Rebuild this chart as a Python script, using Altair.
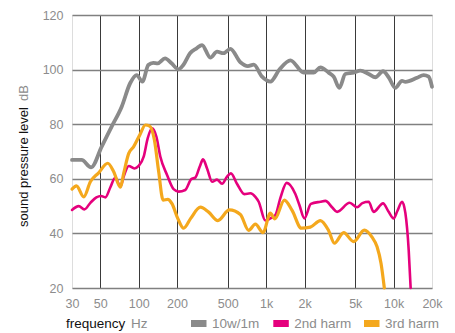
import altair as alt
import pandas as pd

series_names = ["10w/1m", "2nd harm", "3rd harm"]
series_colors = ["#8a8a8a", "#e5007d", "#f4a81d"]

grey_freq = [30, 35.7, 42.4, 51.3, 61.4, 73.6, 85.7, 96.5, 107, 119, 130, 141, 161, 181, 205,
             224, 253, 285, 314, 365, 412, 462, 524, 628, 719, 799, 929, 1079, 1271, 1549,
             1970, 2361, 2664, 3093, 3387, 3750, 4180, 4858, 5480, 6370, 7190, 8260, 9140,
             10310, 11640, 12360, 15270, 17190, 18830, 20000]
grey_db = [66.9, 66.9, 64.2, 71.8, 79.1, 86.4, 95.0, 98.0, 95.6, 101.7, 102.5, 102.3, 104.1, 102.3, 100.1,
           101.7, 106.0, 107.8, 109.0, 104.4, 106.6, 106.0, 107.6, 102.7, 101.3, 101.8, 97.4, 95.6, 100.0, 103.4,
           98.9, 98.9, 100.8, 98.9, 97.4, 93.3, 98.4, 98.9, 99.6, 98.4, 97.2, 99.4, 97.2,
           93.3, 95.9, 95.5, 97.0, 98.0, 97.4, 93.7]

pink_freq = [30, 33.9, 37.5, 41.8, 46.6, 50.7, 54.8, 60, 65.6, 71.9, 76.3, 83.6, 92.6, 100, 109.5,
             117.7, 127.4, 137.8, 148, 167, 188, 206, 232, 258, 279, 301, 320, 344, 377, 412,
             451, 494, 529, 592, 675, 752, 823, 874, 986, 1079, 1182, 1294, 1449, 1695, 1823,
             1995, 2244, 2664, 2916, 3289, 3600, 4520, 5166, 5690, 6370, 6972, 8262, 9141, 10000, 10700,
             11650, 12360, 13130, 13600]
pink_db = [48.6, 50.0, 48.8, 51.2, 53.2, 53.7, 53.2, 56.9, 60.5, 57.1, 60.8, 64.7, 63.8, 64.7, 68.1,
           74.8, 78.5, 75.4, 68.1, 61.4, 56.2, 55.3, 55.9, 59.8, 60.5, 64.4, 67.1, 63.8, 58.9, 59.7,
           58.2, 60.8, 62.0, 58.1, 54.4, 54.7, 53.4, 51.6, 44.7, 45.5, 46.7, 53.0, 58.5, 54.4, 50.4,
           45.5, 50.8, 51.6, 51.9, 49.6, 47.9, 51.2, 49.6, 51.1, 51.6, 47.9, 51.0, 47.9, 45.5, 48.2,
           51.6, 47.5, 33.9, 20]

orange_freq = [30, 32.5, 37.1, 41.8, 48.6, 57.2, 63.7, 71.9, 76.3, 83.6, 91.4, 101.9, 113, 122, 132.9,
               143.6, 155.5, 169, 183, 202.5, 225.5, 256, 305, 354, 418, 515, 628, 729, 823, 946,
               1079, 1170, 1390, 1598, 1890, 2223, 2664, 3093, 3430, 4056, 4858, 5890, 6770, 7416, 7968,
               8455]
orange_db = [56.2, 57.4, 53.4, 58.9, 62.2, 65.7, 62.6, 56.9, 62.0, 69.3, 71.8, 76.0, 79.7, 79.3, 74.2,
             62.6, 52.2, 52.5, 50.8, 45.5, 41.9, 45.5, 49.6, 47.8, 44.7, 48.6, 46.9, 41.1, 43.4, 40.3,
             47.4, 45.3, 52.2, 48.4, 41.9, 42.3, 44.7, 41.0, 36.4, 40.3, 37.0, 41.2, 38.6, 35.1, 29.0,
             20]

x_ticks = [30, 50, 100, 200, 500, 1000, 2000, 5000, 10000, 20000]
y_ticks = [20, 40, 60, 80, 100, 120]

FONT = "Liberation Sans"
LABEL_GREY = "#8c8c8c"

frames = []
for name, fr, db in [(series_names[0], grey_freq, grey_db),
                     (series_names[1], pink_freq, pink_db),
                     (series_names[2], orange_freq, orange_db)]:
    frames.append(pd.DataFrame({"freq": fr, "db": db, "series": name, "order": range(len(fr))}))
df = pd.concat(frames, ignore_index=True)

x_enc = alt.X(
    "freq:Q",
    scale=alt.Scale(type="log", domain=[30, 20000], nice=False),
    axis=alt.Axis(
        values=x_ticks,
        labelExpr="datum.value >= 1000 ? (datum.value / 1000) + 'k' : datum.value",
        title=None, grid=True, gridColor="#3a3a3a", gridWidth=1,
        gridOpacity=alt.condition("datum.value == 30 || datum.value == 20000", alt.value(0), alt.value(1)),
        ticks=False, domain=False, labelPadding=9, labelFontSize=12.5,
        labelColor=LABEL_GREY, labelFont=FONT, labelFlush=False,
    ),
)
y_enc = alt.Y(
    "db:Q",
    scale=alt.Scale(domain=[20, 120], nice=False, zero=False),
    axis=alt.Axis(
        values=y_ticks, title=None, grid=True, gridColor="#808080", gridWidth=1.5,
        ticks=False, domain=False, labelPadding=9, labelFontSize=12.5,
        labelColor=LABEL_GREY, labelFont=FONT,
    ),
)
color_enc = alt.Color(
    "series:N",
    scale=alt.Scale(domain=series_names, range=series_colors),
    legend=None,
)

widths = [3.8, 2.6, 3.2]
line_layers = []
for name, w in zip(series_names, widths):
    line_layers.append(
        alt.Chart(df).transform_filter(alt.datum.series == name)
        .mark_line(strokeWidth=w, interpolate="monotone", strokeCap="round", strokeJoin="round")
        .encode(x=x_enc, y=y_enc, color=color_enc, order="order:Q")
    )

def label(text, x, y, color, angle=None, size=13.5):
    kw = dict(align="left", baseline="middle", fontSize=size, font=FONT, color=color)
    if angle is not None:
        kw["angle"] = angle
    return alt.Chart(pd.DataFrame({"t": [text]})).mark_text(**kw).encode(
        x=alt.value(x), y=alt.value(y), text="t:N")

texts = [
    label("frequency", -6, 308.5, "#111111"),
    label("Hz", 59, 308.5, LABEL_GREY),
    label("sound pressure level", -48, 212, "#111111", angle=270, size=13),
    label("dB", -48, 86, LABEL_GREY, angle=270, size=13),
]

# legend (swatch + label per series)
legend_swatch_x = [119, 201.3, 292]
legend_layers = []
for name, col, sx in zip(series_names, series_colors, legend_swatch_x):
    legend_layers.append(
        alt.Chart(pd.DataFrame({"s": [name]})).mark_rect(color=col).encode(
            x=alt.value(sx), x2=alt.value(sx + 15.5), y=alt.value(305), y2=alt.value(312))
    )
    legend_layers.append(label(name, sx + 21, 308.5, LABEL_GREY))

chart = alt.layer(*line_layers, *texts, *legend_layers).properties(
    width=360, height=273,
    autosize=alt.AutoSizeParams(type="none"),
    padding={"left": 72, "top": 15, "right": 23, "bottom": 45},
).configure_view(strokeWidth=0).configure(background="white")

chart.save("out.html", embed_options={"renderer": "svg", "actions": False})
